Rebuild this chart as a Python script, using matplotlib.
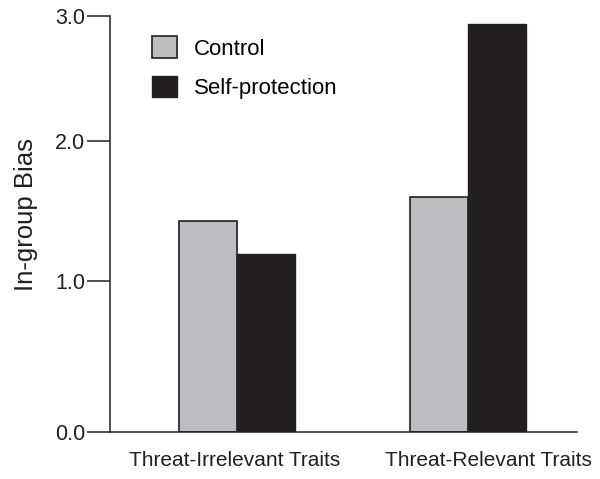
import numpy as np
import matplotlib
matplotlib.use('Agg')
import matplotlib.pyplot as plt

# Data
groups = ['Threat-Irrelevant Traits', 'Threat-Relevant Traits']
control = [1.43, 1.60]
self_protection = [1.19, 2.94]
y_ticks = [0.0, 1.0, 2.0, 3.0]
y_tick_labels = ['0.0', '1.0', '2.0', '3.0']

plt.rcParams['font.family'] = ['Liberation Sans', 'DejaVu Sans']
ink = '#231f20'

fig = plt.figure(figsize=(6, 4.79), dpi=100)
ax = fig.add_axes([110/600, 1-432/479, 467/600, 416/479])

# the original axis is not evenly spaced between its ticks
tick_px = [0, 151, 291, 416]
fwd = lambda y: np.interp(y, y_ticks, tick_px)
inv = lambda p: np.interp(p, tick_px, y_ticks)
ax.set_yscale('function', functions=(fwd, inv))

x = np.arange(len(groups))
w = 0.253
ax.bar(x - w/2, control, w, color='#bcbdc0', edgecolor=ink, linewidth=1.2, label='Control')
ax.bar(x + w/2, self_protection, w, color=ink, edgecolor=ink, linewidth=1.0, label='Self-protection')

ax.set_xlim(-0.55, 1.472)
ax.set_ylim(0, 3)
ax.set_yticks(y_ticks)
ax.set_yticklabels(y_tick_labels)
ax.minorticks_off()

# x labels sit a bit off the group centres in the original
ax.set_xticks(x + np.array([-0.01, 0.087]))
ax.set_xticklabels(groups)
ax.tick_params(axis='x', length=0, pad=13.5, labelsize=15, colors=ink)
ax.tick_params(axis='y', length=16.5, width=1.1, pad=1.5, labelsize=15.5, colors=ink)

for s in ['top', 'right']:
    ax.spines[s].set_visible(False)
for s in ['left', 'bottom']:
    ax.spines[s].set_linewidth(1.1)
    ax.spines[s].set_color(ink)

ax.set_ylabel('In-group Bias', fontsize=18.5, color=ink)
ax.yaxis.set_label_coords(-0.154, 0.522)

ax.legend(loc='upper left', bbox_to_anchor=(0.09, 0.951), frameon=False,
          fontsize=16, handlelength=1.12, handleheight=1.12, handletextpad=0.75,
          labelspacing=0.72, borderpad=0, borderaxespad=0)

fig.savefig('out.png', dpi=100)
